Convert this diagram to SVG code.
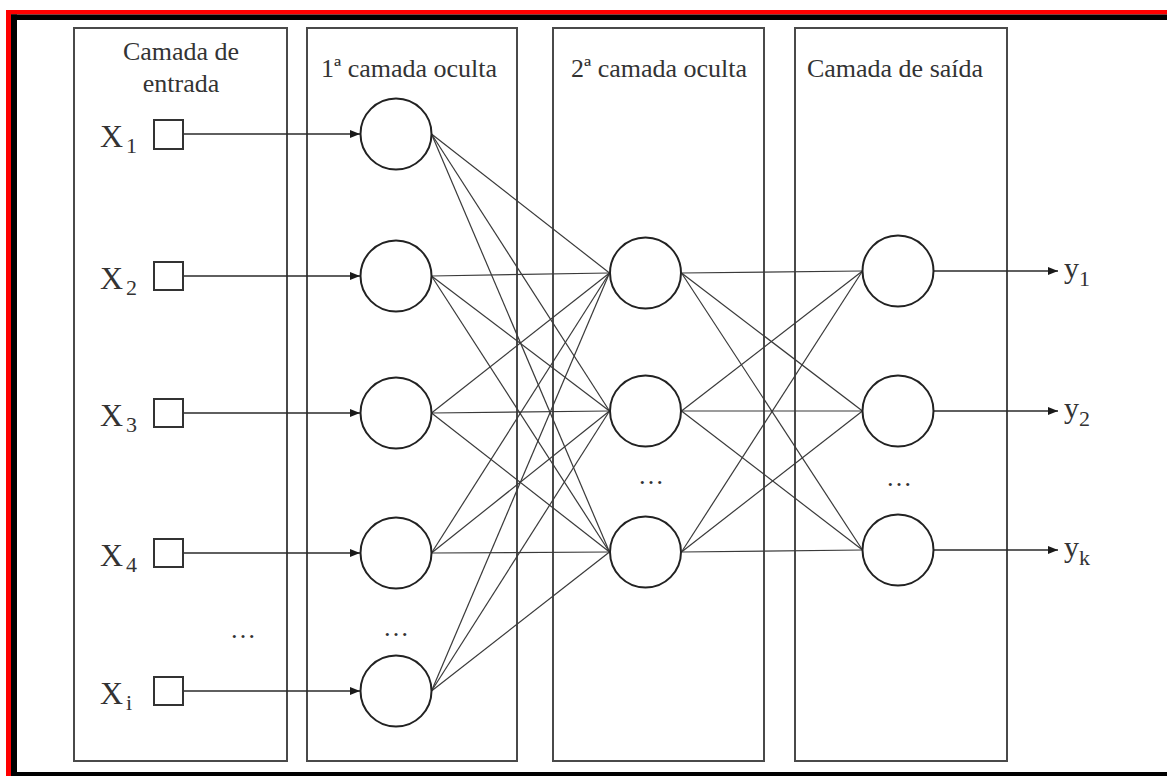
<svg xmlns="http://www.w3.org/2000/svg" width="1167" height="776" viewBox="0 0 1167 776">
<style>
.bg{fill:#ffffff}
.layer{fill:none;stroke:#4a4a4a;stroke-width:2}
.node{fill:#ffffff;stroke:#222;stroke-width:2}
.inp{fill:#ffffff;stroke:#333;stroke-width:2}
.edge{stroke:#3a3a3a;stroke-width:1.2;fill:none}
.arrow{stroke:#2a2a2a;stroke-width:1.3;fill:none;marker-end:url(#ah)}
.hdr{font-family:"Liberation Serif","Times New Roman",serif;font-size:26px;fill:#333;text-anchor:middle}
.lbl{font-family:"Liberation Serif","Times New Roman",serif;font-size:32px;fill:#333}
.sub{font-family:"Liberation Serif","Times New Roman",serif;font-size:22px;fill:#333}
.ylbl{font-family:"Liberation Serif","Times New Roman",serif;font-size:30px;fill:#333}
.dots{font-family:"Liberation Serif","Times New Roman",serif;font-size:26px;fill:#333;text-anchor:middle}
</style>
<defs>
<marker id="ah" markerWidth="10" markerHeight="8" refX="10" refY="4" orient="auto" markerUnits="userSpaceOnUse">
<path d="M0,0 L10,4 L0,8 Z" fill="#1a1a1a"/>
</marker>
</defs>
<rect class="bg" x="0" y="0" width="1167" height="776"/>
<!-- outer frame -->
<g id="frame">
<rect x="6" y="10" width="1161" height="4.5" fill="#ff0000"/>
<rect x="6" y="10" width="5" height="766" fill="#ff0000"/>
<rect x="11" y="14.5" width="1156" height="5.5" fill="#000"/>
<rect x="11" y="14.5" width="6" height="761.5" fill="#000"/>
<rect x="11" y="772" width="1156" height="4" fill="#000"/>
</g>
<!-- layer boxes -->
<g id="layer-input">
<rect class="layer" x="74" y="28" width="213" height="733"/>
<text class="hdr" x="181" y="60">Camada de</text>
<text class="hdr" x="181" y="92">entrada</text>
</g>
<g id="layer-hidden1">
<rect class="layer" x="307" y="28" width="210" height="733"/>
<text class="hdr" x="409" y="77">1ª camada oculta</text>
</g>
<g id="layer-hidden2">
<rect class="layer" x="553" y="28" width="211" height="733"/>
<text class="hdr" x="659" y="77">2ª camada oculta</text>
</g>
<g id="layer-output">
<rect class="layer" x="795" y="28" width="212" height="733"/>
<text class="hdr" x="895" y="77">Camada de saída</text>
</g>
<!-- connectors -->
<g id="connectors">
<line class="arrow" x1="183" y1="134" x2="360" y2="134"/>
<line class="arrow" x1="183" y1="276" x2="360" y2="276"/>
<line class="arrow" x1="183" y1="413" x2="360" y2="413"/>
<line class="arrow" x1="183" y1="553" x2="360" y2="553"/>
<line class="arrow" x1="183" y1="691" x2="360" y2="691"/>
<!-- hidden1 -> hidden2 -->
<line class="edge" x1="431.5" y1="134" x2="609.5" y2="273"/>
<line class="edge" x1="431.5" y1="134" x2="609.5" y2="411"/>
<line class="edge" x1="431.5" y1="134" x2="609.5" y2="552"/>
<line class="edge" x1="431.5" y1="276" x2="609.5" y2="273"/>
<line class="edge" x1="431.5" y1="276" x2="609.5" y2="411"/>
<line class="edge" x1="431.5" y1="276" x2="609.5" y2="552"/>
<line class="edge" x1="431.5" y1="413" x2="609.5" y2="273"/>
<line class="edge" x1="431.5" y1="413" x2="609.5" y2="411"/>
<line class="edge" x1="431.5" y1="413" x2="609.5" y2="552"/>
<line class="edge" x1="431.5" y1="553" x2="609.5" y2="273"/>
<line class="edge" x1="431.5" y1="553" x2="609.5" y2="411"/>
<line class="edge" x1="431.5" y1="553" x2="609.5" y2="552"/>
<line class="edge" x1="431.5" y1="691" x2="609.5" y2="273"/>
<line class="edge" x1="431.5" y1="691" x2="609.5" y2="411"/>
<line class="edge" x1="431.5" y1="691" x2="609.5" y2="552"/>
<!-- hidden2 -> output -->
<line class="edge" x1="681.5" y1="273" x2="862.5" y2="271"/>
<line class="edge" x1="681.5" y1="273" x2="862.5" y2="411"/>
<line class="edge" x1="681.5" y1="273" x2="862.5" y2="550"/>
<line class="edge" x1="681.5" y1="411" x2="862.5" y2="271"/>
<line class="edge" x1="681.5" y1="411" x2="862.5" y2="411"/>
<line class="edge" x1="681.5" y1="411" x2="862.5" y2="550"/>
<line class="edge" x1="681.5" y1="552" x2="862.5" y2="271"/>
<line class="edge" x1="681.5" y1="552" x2="862.5" y2="411"/>
<line class="edge" x1="681.5" y1="552" x2="862.5" y2="550"/>
<!-- outputs -->
<line class="arrow" x1="933.5" y1="271" x2="1058" y2="271"/>
<line class="arrow" x1="933.5" y1="411" x2="1058" y2="411"/>
<line class="arrow" x1="933.5" y1="550" x2="1058" y2="550"/>
</g>
<!-- input nodes -->
<g id="x1"><rect class="inp" x="154" y="120" width="29" height="29"/><text class="lbl" x="100" y="147">X</text><text class="sub" x="126" y="153">1</text></g>
<g id="x2"><rect class="inp" x="154" y="262" width="29" height="28"/><text class="lbl" x="100" y="289">X</text><text class="sub" x="126" y="295">2</text></g>
<g id="x3"><rect class="inp" x="154" y="399" width="29" height="28"/><text class="lbl" x="100" y="426">X</text><text class="sub" x="126" y="432">3</text></g>
<g id="x4"><rect class="inp" x="154" y="539" width="29" height="28"/><text class="lbl" x="100" y="566">X</text><text class="sub" x="126" y="572">4</text></g>
<g id="xi"><rect class="inp" x="154" y="677" width="29" height="28"/><text class="lbl" x="100" y="704">X</text><text class="sub" x="126" y="710">i</text></g>
<g id="dots-input"><text class="dots" x="243" y="638">…</text></g>
<!-- hidden layer 1 nodes -->
<g id="h1-1"><circle class="node" cx="396" cy="134" r="35.5"/></g>
<g id="h1-2"><circle class="node" cx="396" cy="276" r="35.5"/></g>
<g id="h1-3"><circle class="node" cx="396" cy="413" r="35.5"/></g>
<g id="h1-4"><circle class="node" cx="396" cy="553" r="35.5"/></g>
<g id="h1-5"><circle class="node" cx="396" cy="691" r="35.5"/></g>
<g id="dots-h1"><text class="dots" x="396" y="636">…</text></g>
<!-- hidden layer 2 nodes -->
<g id="h2-1"><circle class="node" cx="645.5" cy="273" r="35.5"/></g>
<g id="h2-2"><circle class="node" cx="645.5" cy="411" r="35.5"/></g>
<g id="h2-3"><circle class="node" cx="645.5" cy="552" r="35.5"/></g>
<g id="dots-h2"><text class="dots" x="651" y="484">…</text></g>
<!-- output nodes -->
<g id="o-1"><circle class="node" cx="898" cy="271" r="35.5"/><text class="ylbl" x="1064" y="278">y</text><text class="sub" x="1079" y="286">1</text></g>
<g id="o-2"><circle class="node" cx="898" cy="411" r="35.5"/><text class="ylbl" x="1064" y="418">y</text><text class="sub" x="1079" y="426">2</text></g>
<g id="o-k"><circle class="node" cx="898" cy="550" r="35.5"/><text class="ylbl" x="1064" y="557">y</text><text class="sub" x="1079" y="565">k</text></g>
<g id="dots-out"><text class="dots" x="899" y="486">…</text></g>
</svg>
